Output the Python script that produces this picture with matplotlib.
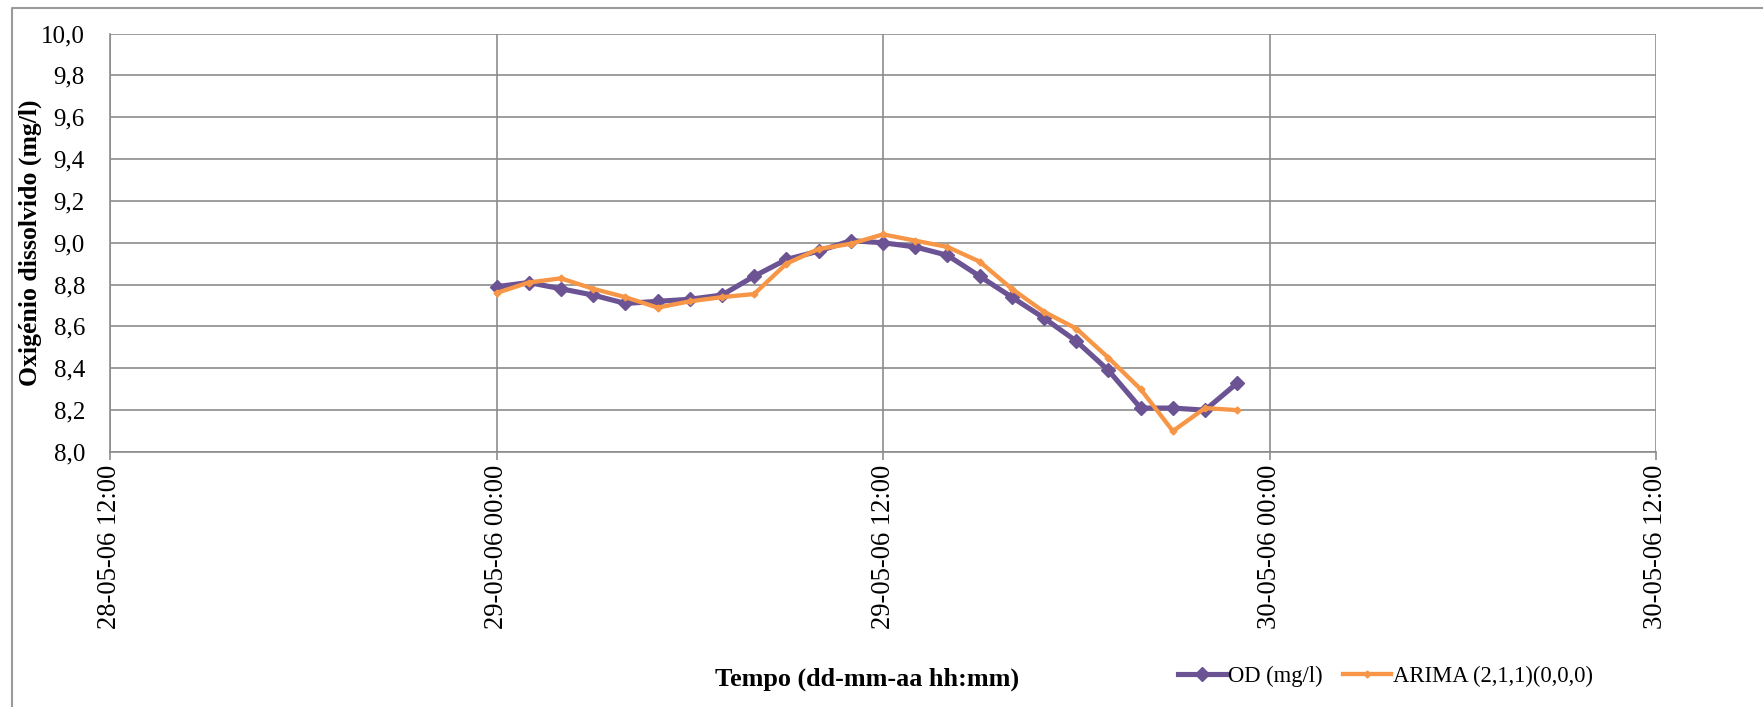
import matplotlib
matplotlib.use("Agg")
import matplotlib.pyplot as plt
import matplotlib.dates as mdates
from matplotlib.lines import Line2D
from datetime import datetime, timedelta

plt.rcParams['font.family'] = ['Liberation Serif', 'DejaVu Serif']

# ---- data ----
start = datetime(2006, 5, 29, 0, 0)
times = [start + timedelta(hours=h) for h in range(24)]
od = [8.79, 8.81, 8.78, 8.75, 8.71, 8.72, 8.73, 8.75, 8.84, 8.92, 8.96, 9.01,
      9.00, 8.98, 8.94, 8.84, 8.74, 8.64, 8.53, 8.39, 8.21, 8.21, 8.20, 8.33]
arima = [8.76, 8.81, 8.83, 8.78, 8.74, 8.69, 8.72, 8.74, 8.755, 8.90, 8.97, 8.995,
         9.04, 9.01, 8.98, 8.91, 8.78, 8.67, 8.59, 8.45, 8.30, 8.10, 8.21, 8.20]
x_min = datetime(2006, 5, 28, 12, 0)
x_max = datetime(2006, 5, 30, 12, 0)
y_ticks = [8.0, 8.2, 8.4, 8.6, 8.8, 9.0, 9.2, 9.4, 9.6, 9.8, 10.0]
od_label = "OD (mg/l)"
arima_label = "ARIMA (2,1,1)(0,0,0)"
x_title = "Tempo (dd-mm-aa hh:mm)"
y_title = "Oxigénio dissolvido (mg/l)"

W, H = 1763, 707
fig = plt.figure(figsize=(W / 100, H / 100), dpi=100)
ax = fig.add_axes([110 / W, 1 - 452 / H, (1656 - 110) / W, (452 - 33.5) / H])

purple = '#6B5394'
orange = '#F79646'
grid_c = '#8C8C8C'

ax.plot(times, od, color=purple, lw=3.7, marker='D', ms=7.5, mec=purple, mfc=purple,
        label=od_label, zorder=3, solid_joinstyle='round')
ax.plot(times, arima, color=orange, lw=3.1, marker='D', ms=3.5, mec=orange, mfc=orange,
        label=arima_label, zorder=4, solid_joinstyle='round')

ax.set_xlim(x_min, x_max)
ax.set_ylim(8.0, 10.0)
ax.set_yticks(y_ticks)
ax.set_yticklabels([f"{v:.1f}".replace('.', ',') for v in y_ticks])
ax.xaxis.set_major_locator(mdates.HourLocator(byhour=[0, 12]))
ax.xaxis.set_major_formatter(mdates.DateFormatter('%d-%m-%y %H:%M'))
plt.setp(ax.get_xticklabels(), rotation=90, ha='center', va='top')

ax.grid(True, color=grid_c, lw=1.2)
ax.set_axisbelow(True)
for s in ['top', 'right']:
    ax.spines[s].set_visible(False)
for s in ['left', 'bottom']:
    ax.spines[s].set_color(grid_c)
    ax.spines[s].set_linewidth(1.2)
ax.tick_params(axis='y', length=0, pad=18, labelsize=18)
ax.tick_params(axis='x', length=6, width=1.2, color=grid_c, pad=3, labelsize=19.2)

ax.set_ylabel(y_title, fontsize=18.5, fontweight='bold')
ax.yaxis.set_label_coords(-0.044, 0.5)
ax.set_xlabel(x_title, fontsize=18.8, fontweight='bold')
ax.xaxis.set_label_coords(0.49, -0.514)

leg = fig.legend(loc='center left', bbox_to_anchor=(1158 / W, 1 - 676 / H), ncol=2,
                 frameon=False, fontsize=16.3, handlelength=2.1, handletextpad=0.1,
                 columnspacing=0.9)

# outer chart frame (left and top visible)
fig.add_artist(Line2D([12 / W, 12 / W, 1.0], [0.0, 1 - 8 / H, 1 - 8 / H],
                      transform=fig.transFigure, color='#9A9A9A', lw=1.5))

fig.savefig('out.png', dpi=100, facecolor='white')
